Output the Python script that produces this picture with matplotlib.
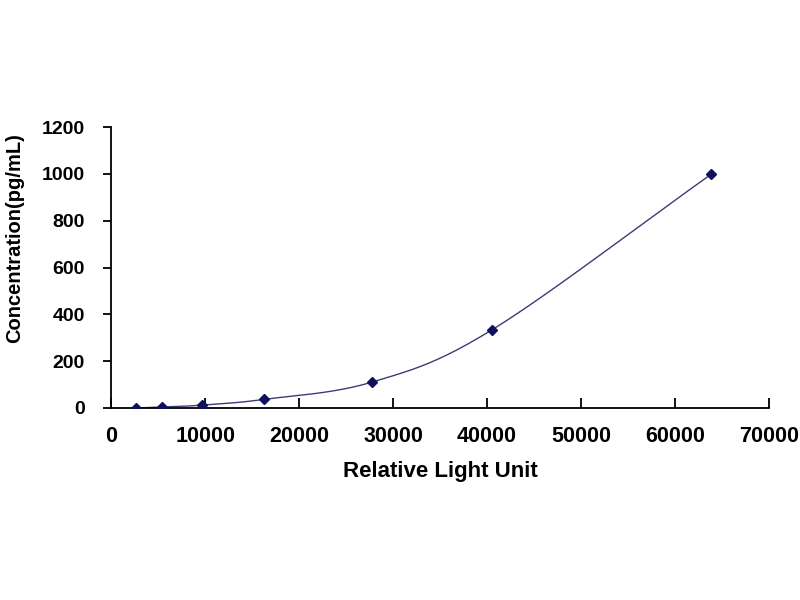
import numpy as np
import matplotlib.pyplot as plt

plt.rcParams['font.family'] = ['Liberation Sans', 'DejaVu Sans']

# standard curve readings
rlu = [2600, 5400, 9700, 16300, 27800, 40500, 63900]
conc = [0, 4.1, 12.3, 37.0, 111.1, 333.3, 1000]

x_ticks = [0, 10000, 20000, 30000, 40000, 50000, 60000, 70000]
y_ticks = [0, 200, 400, 600, 800, 1000, 1200]


def smooth_curve(xs, ys, xr, yr, steps=40):
    # Catmull-Rom style smoothing, done in axis-normalised units
    px = np.asarray(xs, float) / xr
    py = np.asarray(ys, float) / yr
    px = np.concatenate([[2 * px[0] - px[1]], px, [2 * px[-1] - px[-2]]])
    py = np.concatenate([[2 * py[0] - py[1]], py, [2 * py[-1] - py[-2]]])
    out_x, out_y = [], []
    t = np.linspace(0, 1, steps)
    for i in range(1, len(px) - 2):
        p0, p1, p2, p3 = [np.array([px[k], py[k]]) for k in (i - 1, i, i + 1, i + 2)]
        m1 = (p2 - p0) / 6.0
        m2 = (p3 - p1) / 6.0
        b0, b1, b2, b3 = p1, p1 + m1, p2 - m2, p2
        seg = ((1 - t) ** 3)[:, None] * b0 + (3 * (1 - t) ** 2 * t)[:, None] * b1 \
            + (3 * (1 - t) * t ** 2)[:, None] * b2 + (t ** 3)[:, None] * b3
        out_x.extend(seg[:, 0])
        out_y.extend(seg[:, 1])
    return np.array(out_x) * xr, np.array(out_y) * yr


fig = plt.figure(figsize=(8, 6), dpi=100)
ax = fig.add_axes([0.139, 0.32, 0.822, 0.468])

cx, cy = smooth_curve(rlu, conc, 70000, 1200)
ax.plot(cx, cy, color='#3c3c78', lw=1.0, zorder=2)
ax.plot(rlu, conc, linestyle='none', marker='D', markersize=5.5,
        color='#10105e', zorder=3)

ax.set_xlim(0, 70000)
ax.set_ylim(0, 1200)
ax.set_xticks(x_ticks)
ax.set_yticks(y_ticks)
ax.set_xticklabels([str(v) for v in x_ticks], fontweight='bold', fontsize=15.5)
ax.set_yticklabels([str(v) for v in y_ticks], fontweight='bold', fontsize=14)

ax.spines['top'].set_visible(False)
ax.spines['right'].set_visible(False)
for s in ('left', 'bottom'):
    ax.spines[s].set_linewidth(1.3)
    ax.spines[s].set_color('black')

ax.tick_params(axis='x', direction='in', length=7, width=1.3, pad=13)
ax.tick_params(axis='y', direction='out', length=6, width=1.3, pad=13)

ax.set_xlabel('Relative Light Unit', fontweight='bold', fontsize=16, labelpad=10)
ax.set_ylabel('Concentration(pg/mL)', fontweight='bold', fontsize=14.5)
ax.yaxis.set_label_coords(-0.133, 0.605)

fig.savefig('out.png', dpi=100)
